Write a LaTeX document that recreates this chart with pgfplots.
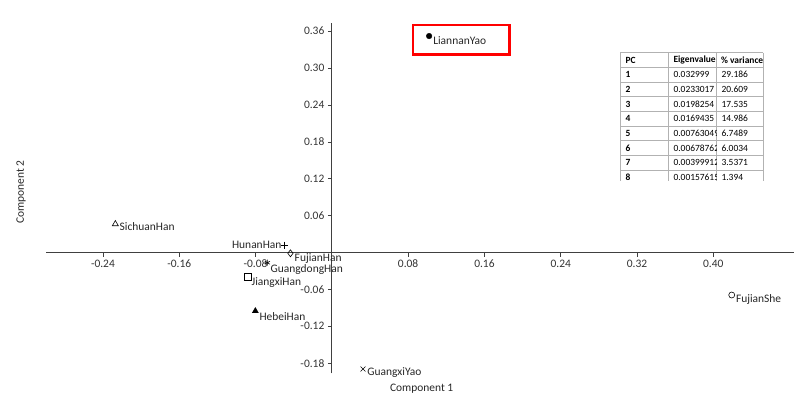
\documentclass[border=0pt]{standalone}
\usepackage{fontspec}
\setmainfont{Carlito}
\usepackage{pgfplots}
\pgfplotsset{compat=1.18}
\begin{document}
\begin{tikzpicture}
\path[use as bounding box] (-46.2bp,-31.7bp) rectangle (747.8bp,373.3bp);
\begin{axis}[
  scale only axis, width=747.8bp, height=350.6bp,
  at={(0,0)}, anchor=south west,
  xmin=-0.2995, xmax=0.4846, ymin=-0.1964, ymax=0.3737,
  axis lines*=middle,
  axis line style={black!75, line width=0.8pt},
  xtick={-0.24,-0.16,-0.08,0.08,0.16,0.24,0.32,0.40},
  ytick={-0.18,-0.12,-0.06,0.06,0.12,0.18,0.24,0.30,0.36},
  tick align=outside,
  major tick length=4bp,
  tick style={black!75, line width=0.6pt},
  ticklabel style={font=\fontsize{11.5}{13}\selectfont, text=black!80,
    /pgf/number format/fixed, /pgf/number format/fixed zerofill,
    /pgf/number format/precision=2, /pgf/number format/assume math mode=true},
  clip=false,
  every node near coord/.append style={font=\fontsize{11.5}{13}\selectfont, text=black!85, inner sep=0pt},
]
\addplot[only marks, mark=*, mark size=2.8bp, black,
  nodes near coords={LiannanYao}, nodes near coords align={anchor=west, xshift=4bp, yshift=-5bp}]
  coordinates {(0.102,0.352)};
\addplot[only marks, mark=o, mark size=3bp, black, mark options={line width=0.6pt},
  nodes near coords={FujianShe}, nodes near coords align={anchor=west, xshift=4bp, yshift=-4bp}]
  coordinates {(0.4193,-0.0691)};
\addplot[only marks, mark=x, mark size=3.5bp, black, mark options={line width=0.6pt},
  nodes near coords={GuangxiYao}, nodes near coords align={anchor=west, xshift=4bp, yshift=-4bp}]
  coordinates {(0.0327,-0.1894)};
\addplot[only marks, mark=triangle, mark size=3.5bp, black, mark options={line width=0.6pt},
  nodes near coords={SichuanHan}, nodes near coords align={anchor=west, xshift=4bp, yshift=-3bp}]
  coordinates {(-0.2270,0.0463)};
\addplot[only marks, mark=+, mark size=3.5bp, black, mark options={line width=0.6pt},
  nodes near coords={HunanHan}, nodes near coords align={anchor=east, xshift=-3bp, yshift=0bp}]
  coordinates {(-0.0494,0.0122)};
\addplot[only marks, mark=diamond, mark size=3.5bp, black, mark options={line width=0.6pt},
  nodes near coords={FujianHan}, nodes near coords align={anchor=west, xshift=4bp, yshift=-5bp}]
  coordinates {(-0.0434,-0.0013)};
\addplot[only marks, mark=asterisk, mark size=3bp, black, mark options={line width=0.6pt},
  nodes near coords={GuangdongHan}, nodes near coords align={anchor=west, xshift=3bp, yshift=-7bp}]
  coordinates {(-0.0676,-0.0166)};
\addplot[only marks, mark=square, mark size=3.5bp, black, mark options={line width=0.6pt},
  nodes near coords={JiangxiHan}, nodes near coords align={anchor=west, xshift=4bp, yshift=-6bp}]
  coordinates {(-0.0886,-0.0393)};
\addplot[only marks, mark=triangle*, mark size=3.5bp, black,
  nodes near coords={HebeiHan}, nodes near coords align={anchor=west, xshift=4bp, yshift=-6bp}]
  coordinates {(-0.0802,-0.0951)};
\draw[red, line width=2.7bp] (axis cs:0.0852,0.3222) rectangle (axis cs:0.1866,0.3699);
\end{axis}
\begin{scope}[x=1bp,y=-1bp,shift={(-46.2bp,373.3bp)}]
  \node[font=\fontsize{11.5}{13}\selectfont, text=black!85] at (421.7,388.3) {Component 1};
  \node[font=\fontsize{11.5}{13}\selectfont, text=black!85, rotate=90] at (21,192) {Component 2};
  \begin{scope}
    \clip (619.5,52) rectangle (764,181);
    \fill[white] (620,52.7) rectangle (763,181);
    \foreach \k in {0,...,8} \draw[black!30, line width=0.6bp] (620,{52.7+14.66*\k}) -- (763,{52.7+14.66*\k});
    \foreach \xx in {620,668.3,716,763} \draw[black!30, line width=0.6bp] (\xx,52.7) -- (\xx,181);
    \node[anchor=west, font=\fontsize{9.5}{11}\selectfont\bfseries] at (622,60) {PC};
    \node[anchor=west, font=\fontsize{9.5}{11}\selectfont\bfseries] at (670,60) {Eigenvalue};
    \node[anchor=west, font=\fontsize{9.5}{11}\selectfont\bfseries] at (717.5,60) {\% variance};
    \foreach \e/\v [count=\i] in {0.032999/29.186, 0.0233017/20.609, 0.0198254/17.535, 0.0169435/14.986, 0.00763049/6.7489, 0.00678762/6.0034, 0.00399912/3.5371, 0.00157615/1.394}{
      \node[anchor=west, font=\fontsize{9.5}{11}\selectfont\bfseries] at (622,{60+14.66*\i}) {\i};
      \begin{scope}
        \clip (668.3,{52.7+14.66*\i}) rectangle (716,{67.4+14.66*\i});
        \node[anchor=west, font=\fontsize{9.5}{11}\selectfont] at (670,{60+14.66*\i}) {\e};
      \end{scope}
      \node[anchor=west, font=\fontsize{9.5}{11}\selectfont] at (718,{60+14.66*\i}) {\v};
    }
  \end{scope}
\end{scope}
\end{tikzpicture}
\end{document}
